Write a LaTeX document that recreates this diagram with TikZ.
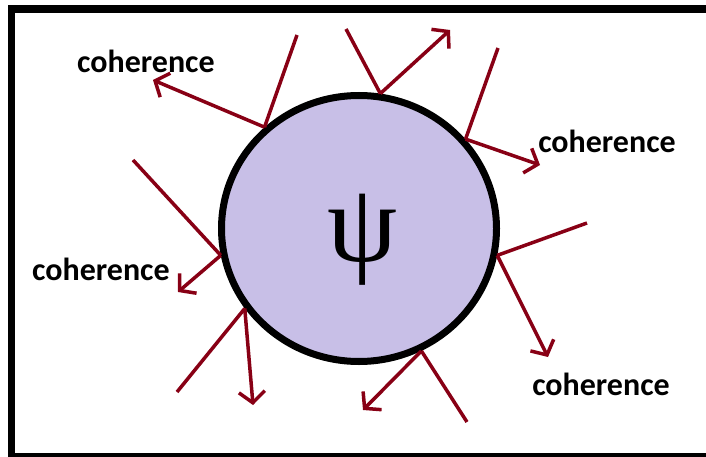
\documentclass[tikz,border=0pt]{standalone}
\usepackage{fontspec}
\newfontfamily\labelfont{Carlito}
\newfontfamily\psifont{Liberation Serif}
\usetikzlibrary{arrows.meta, shapes.geometric}
\definecolor{raycol}{RGB}{136,0,21}
\definecolor{cellcol}{RGB}{200,191,231}

\begin{document}
\begin{tikzpicture}[x=1pt, y=-1pt,
  inray/.style={draw=raycol, line width=3.5pt},
  outray/.style={inray, -{Straight Barb[length=11pt,width=26pt]}},
  lbl/.style={font={\labelfont\bfseries\fontsize{32}{34}\selectfont}, anchor=base, inner sep=0pt}]

\useasboundingbox (0,0) rectangle (706,457);

%% ── Frame ────────────────────
\fill[black] (8,5) rectangle (706,457);
\fill[white] (15,13) rectangle (712,453);

%% ── Wave function ────────────────────
\node[ellipse, draw, line width=7pt, fill=cellcol, minimum width=275pt,
      minimum height=266pt, inner sep=0pt] (cell) at (359,228.5) {};
\node[font={\psifont\fontsize{112}{112}\selectfont}, inner sep=0pt] (psi) at (363,240) {ψ};

%% ── Free ends of the rays ────────────────────
\coordinate (in1)  at (297,35);   \coordinate (out1) at (153,80);
\coordinate (in2)  at (346,29);   \coordinate (out2) at (450,30);
\coordinate (in3)  at (498,48);   \coordinate (out3) at (540,165);
\coordinate (in4)  at (133,160);  \coordinate (out4) at (178,292);
\coordinate (in5)  at (177,392);  \coordinate (out5) at (253,405);
\coordinate (in6)  at (587,223);  \coordinate (out6) at (548,357);
\coordinate (in7)  at (467,422);  \coordinate (out7) at (363,410);

%% ── Incoming rays ────────────────────
\draw[inray] (in1) -- (cell.133);
\draw[inray] (in2) -- (cell.81);
\draw[inray] (in3) -- (cell.40);
\draw[inray] (in4) -- (cell.191);
\draw[inray] (in5) -- (cell.215);
\draw[inray] (in6) -- (cell.349);
\draw[inray] (in7) -- (cell.297);

%% ── Scattered rays ────────────────────
\draw[outray] (cell.133) -- (out1);
\draw[outray] (cell.81)  -- (out2);
\draw[outray] (cell.40)  -- (out3);
\draw[outray] (cell.191) -- (out4);
\draw[outray] (cell.215) -- (out5);
\draw[outray] (cell.349) -- (out6);
\draw[outray] (cell.297) -- (out7);

%% ── Labels ────────────────────
\node[lbl] (lbl1) at (146,73)  {coherence};
\node[lbl] (lbl2) at (607,153) {coherence};
\node[lbl] (lbl3) at (101,280) {coherence};
\node[lbl] (lbl4) at (601,395) {coherence};

\end{tikzpicture}
\end{document}
